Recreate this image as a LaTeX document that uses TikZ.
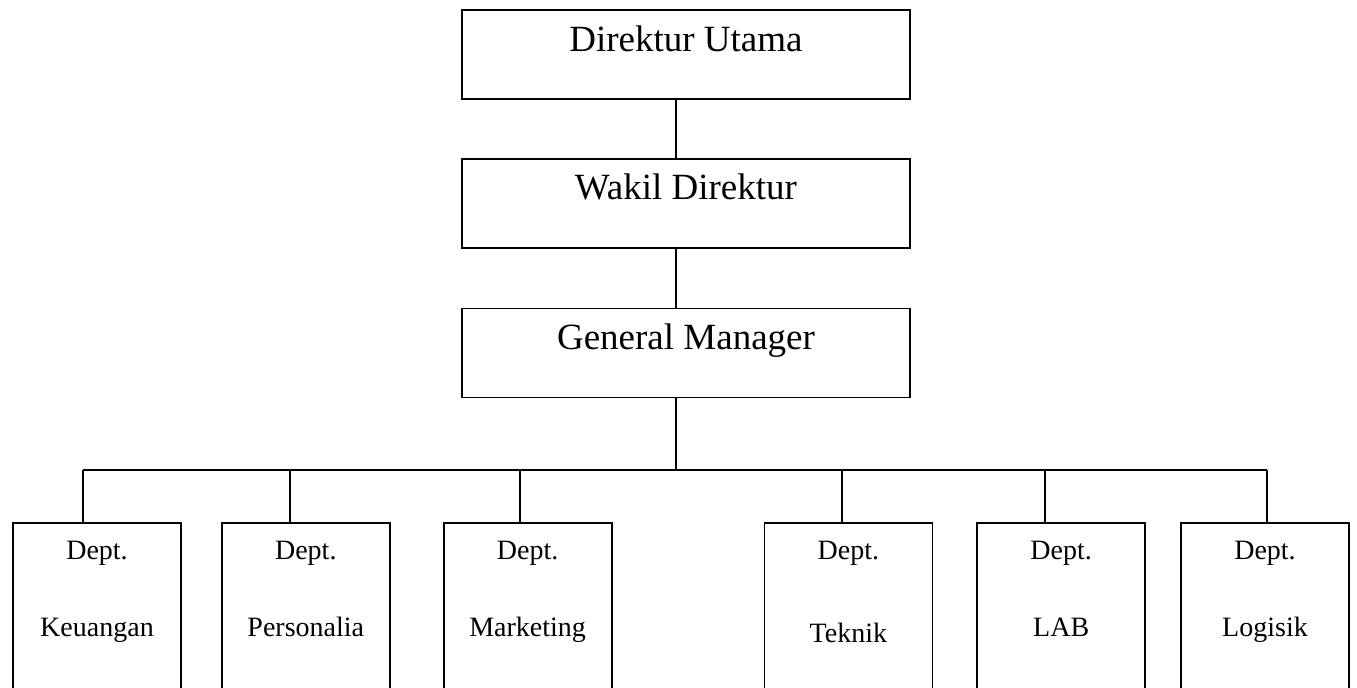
\documentclass[tikz,border=0pt]{standalone}
\usepackage{fontspec}
\setmainfont{Liberation Serif}
\usetikzlibrary{positioning}

\begin{document}
\begin{tikzpicture}[x=0.5pt,y=-0.5pt,line width=0.9pt]
  \tikzset{
    jabatan/.style={rectangle,draw,minimum width=224pt,minimum height=44.5pt,inner sep=0pt},
    dept/.style={rectangle,draw,minimum width=84pt,minimum height=90pt,inner sep=0pt},
    judul/.style={anchor=base,inner sep=0pt,font=\fontsize{18.5pt}{22pt}\selectfont},
    nama/.style={anchor=base,inner sep=0pt,font=\fontsize{14pt}{16pt}\selectfont}
  }
  \useasboundingbox (0,0) rectangle (1357,688);
  \clip (0,0) rectangle (1357,688);
  \node(utama)[jabatan] at (686,54.5){};
  \node(wakil)[jabatan,below = 29pt of utama]{};
  \node(gm)[jabatan,below = 29.5pt of wakil]{};
  \node(tutama)[judul] at ([yshift=-21pt]utama.north){Direktur Utama};
  \node(twakil)[judul] at ([yshift=-21pt]wakil.north){Wakil Direktur};
  \node(tgm)[judul] at ([yshift=-21pt]gm.north){General Manager};
  \node(keu)[dept] at (97,613){};
  \node(pers)[dept,right = 19.5pt of keu]{};
  \node(mark)[dept,right = 26pt of pers]{};
  \node(tek)[dept,right = 75.5pt of mark]{};
  \node(lab)[dept,right = 21.5pt of tek]{};
  \node(log)[dept,right = 17pt of lab]{};
  \node(dkeu)[nama] at ([yshift=-18.5pt]keu.north){Dept.};
  \node(dpers)[nama] at ([yshift=-18.5pt]pers.north){Dept.};
  \node(dmark)[nama] at ([yshift=-18.5pt]mark.north){Dept.};
  \node(dtek)[nama] at ([yshift=-18.5pt]tek.north){Dept.};
  \node(dlab)[nama] at ([yshift=-18.5pt]lab.north){Dept.};
  \node(dlog)[nama] at ([yshift=-18.5pt]log.north){Dept.};
  \node(nkeu)[nama] at ([yshift=-57pt]keu.north){Keuangan};
  \node(npers)[nama] at ([yshift=-57pt]pers.north){Personalia};
  \node(nmark)[nama] at ([yshift=-57pt]mark.north){Marketing};
  \node(ntek)[nama] at ([yshift=-60pt]tek.north){Teknik};
  \node(nlab)[nama] at ([yshift=-57pt]lab.north){LAB};
  \node(nlog)[nama] at ([yshift=-57pt]log.north){Logisik};
  \coordinate(spine) at (676,470);
  \coordinate(cab1) at (83,470);
  \coordinate(cab2) at (290,470);
  \coordinate(cab3) at (520,470);
  \coordinate(cab4) at (842,470);
  \coordinate(cab5) at (1045,470);
  \coordinate(cab6) at (1267,470);
\draw(utama.south -| spine)--(wakil.north -| spine);
\draw(wakil.south -| spine)--(gm.north -| spine);
\draw(gm.south -| spine)--(spine);
\draw(cab1)--(cab6);
\draw(cab1)--(cab1 |- keu.north);
\draw(cab2)--(cab2 |- pers.north);
\draw(cab3)--(cab3 |- mark.north);
\draw(cab4)--(cab4 |- tek.north);
\draw(cab5)--(cab5 |- lab.north);
\draw(cab6)--(cab6 |- log.north);
\end{tikzpicture}
\end{document}
